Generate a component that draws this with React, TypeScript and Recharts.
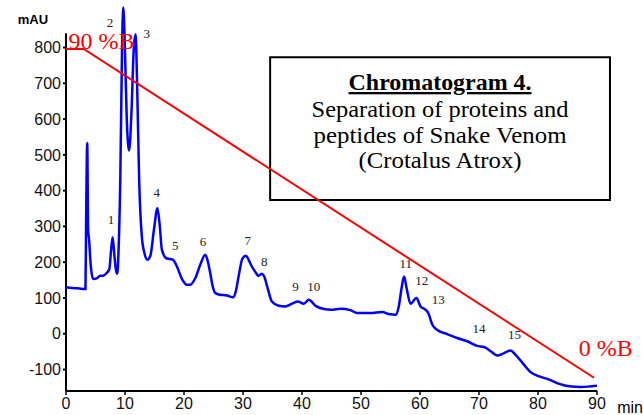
import React from 'react';
import { LineChart, Line, XAxis, YAxis, ReferenceLine, ReferenceDot, ReferenceArea } from 'recharts';

// retention time (min) and absorbance (mAU)
const times = [
  0, 1, 2, 3.3, 3.4, 3.6, 3.75, 3.9, 4.2, 4.6, 5.2, 5.8, 6.3, 6.9, 7.35, 7.6, 7.9, 8.2, 8.5, 8.7,
  8.9, 9.2, 9.5, 9.7, 9.95, 10.3, 10.7, 11.1, 11.5, 11.8, 12.05, 12.4, 12.85, 13.3, 13.8, 14.3,
  14.9, 15.5, 15.9, 16.25, 17.0, 18.1, 18.8, 19.6, 20.5, 21.05, 21.9, 22.8, 23.6, 24.0, 24.45,
  24.9, 25.3, 26.1, 27.3, 28.3, 28.8, 29.25, 29.9, 30.5, 31.0, 31.5, 32.0, 32.65, 33.2, 33.6,
  34.1, 34.9, 36.05, 37.2, 38.3, 39.3, 40.3, 41.15, 42.3, 43.7, 45.0, 46.5, 48.2, 49.35, 51.6,
  53.6, 54.7, 55.9, 56.4, 56.9, 57.3, 57.7, 58.4, 59.4, 60.1, 60.95, 61.4, 62.1, 62.9, 64.6,
  66.3, 68.0, 69.7, 70.85, 72.0, 73.1, 74.25, 75.3, 76.2, 77.4, 78.8, 80.2, 81.9, 83.6, 85.3,
  87.3, 90,
];
const absorbance = [
  130, 128, 127, 125, 300, 533, 290, 265, 190, 153, 155, 162, 162, 170, 181, 225, 270, 220, 175, 168,
  230, 430, 800, 912, 820, 600, 512, 620, 800, 837, 700, 430, 272, 225, 207, 218,
  290, 351, 300, 235, 211, 207, 188, 155, 137, 137, 155, 195, 221, 205, 169,
  130, 114, 109, 107, 102, 120, 160, 210, 218, 205, 188, 175, 162, 168, 160,
  132, 90, 78, 76, 84, 90, 84, 95, 78, 69, 67, 70, 66, 58, 58,
  61, 55, 53, 76, 130, 160, 130, 84, 100, 76, 67, 58, 25, 11, -1,
  -12, -21, -34, -37, -49, -61, -54, -47, -59, -82, -108, -119, -128, -140, -147,
  -149, -145,
];

// gradient programme, drawn in the same units as the trace
const gradientTimes = [0, 3, 89.5];
const gradientLevel = [796, 796, -123];

// peak numbers and where they sit
const peakNames = ['1', '2', '3', '4', '5', '6', '7', '8', '9', '10', '11', '12', '13', '14', '15'];
const peakTimes = [7.63, 7.46, 13.7, 15.4, 18.5, 23.2, 30.8, 33.6, 38.9, 42.0, 57.6, 60.3, 63.1, 70.0, 76.0];
const peakLevels = [321, 870, 840, 394, 248, 259, 262, 203, 133, 133, 197, 150, 97, 15, -2];

const xTicks = [0, 10, 20, 30, 40, 50, 60, 70, 80, 90];
const yTicks = [-100, 0, 100, 200, 300, 400, 500, 600, 700, 800];

const titleLines = ['Chromatogram 4.', 'Separation of proteins and', 'peptides of Snake Venom', '(Crotalus Atrox)'];
const titleLevels = [704, 630, 555, 485];
const titleWidths = [183, 257, 253, 163];

const chromatogram = times.map((t, i) => ({ t, mAU: absorbance[i] }));
const gradient = gradientTimes.map((t, i) => ({ t, mAU: gradientLevel[i] }));

const serif = '"Liberation Serif", "Times New Roman", serif';
const sans = '"Liberation Sans", Arial, sans-serif';

// centred text at the dot position
const textAt = (value: string, style: any, extra: any = {}) => (props: any) => {
  const vb = props.viewBox || {};
  const x = vb.x + (vb.width || 0) / 2;
  const y = vb.y + (vb.height || 0) / 2;
  return (
    <text x={x} y={y} dy="0.355em" textAnchor="middle" style={style} {...extra}>
      {value}
    </text>
  );
};

export default function App() {
  return (
    <div style={{ position: 'absolute', left: 0, top: 0, width: 643, height: 415, background: '#fff' }}>
      <LineChart width={643} height={415} data={chromatogram} margin={{ top: 1, right: 46, bottom: 4, left: 0 }}>
        <XAxis
          dataKey="t"
          type="number"
          domain={[0, 90]}
          ticks={xTicks}
          height={20}
          axisLine={{ stroke: '#000', strokeWidth: 2 }}
          tickLine={{ stroke: '#000', strokeWidth: 1.5 }}
          tickSize={4}
          tickMargin={3}
          tick={{ fill: '#111', fontSize: 16, fontFamily: sans }}
        />
        <YAxis
          type="number"
          domain={[-160, 930]}
          ticks={yTicks}
          width={66}
          axisLine={false}
          tickLine={{ stroke: '#000', strokeWidth: 2 }}
          tickSize={3}
          tickMargin={2}
          tick={{ fill: '#111', fontSize: 16, fontFamily: sans }}
        />
        <ReferenceLine segment={[{ x: 0, y: -160 }, { x: 0, y: 840 }]} stroke="#000" strokeWidth={2} />
        <ReferenceArea
          x1={34.6}
          x2={92.2}
          y1={374}
          y2={773}
          ifOverflow="visible"
          fill="none"
          stroke="#000"
          strokeWidth={2}
        />
        <Line dataKey="mAU" type="monotone" stroke="#0000ff" strokeWidth={2.5} dot={false} isAnimationActive={false} />
        <Line data={gradient} dataKey="mAU" type="linear" stroke="#ff0000" strokeWidth={2} dot={false} isAnimationActive={false} />
        {peakNames.map((name, i) => (
          <ReferenceDot
            key={`peak-${i}`}
            x={peakTimes[i]}
            y={peakLevels[i]}
            r={0}
            fill="none"
            stroke="none"
            ifOverflow="visible"
            label={textAt(name, { fill: '#222', fontSize: 13, fontFamily: serif })}
          />
        ))}
        <ReferenceDot
          x={6.03}
          y={821}
          r={0}
          stroke="none"
          ifOverflow="visible"
          label={textAt('90 %B', { fill: '#ff0000', fontSize: 24, fontFamily: serif })}
        />
        <ReferenceDot
          x={91.5}
          y={-39}
          r={0}
          stroke="none"
          ifOverflow="visible"
          label={textAt('0 %B', { fill: '#ff0000', fontSize: 24, fontFamily: serif })}
        />
        <ReferenceDot
          x={-5.6}
          y={879}
          r={0}
          stroke="none"
          ifOverflow="visible"
          label={textAt('mAU', { fill: '#000', fontSize: 13, fontWeight: 'bold', fontFamily: sans })}
        />
        <ReferenceDot
          x={95.6}
          y={-207}
          r={0}
          stroke="none"
          ifOverflow="visible"
          label={textAt('min', { fill: '#000', fontSize: 16, fontFamily: sans })}
        />
        {titleLines.map((line, i) => (
          <ReferenceDot
            key={`title-${i}`}
            x={63.4}
            y={titleLevels[i]}
            r={0}
            stroke="none"
            ifOverflow="visible"
            label={textAt(
              line,
              i === 0
                ? { fill: '#000', fontSize: 23, fontWeight: 'bold', fontFamily: serif, textDecoration: 'underline' }
                : { fill: '#000', fontSize: 23, fontFamily: serif },
              { textLength: titleWidths[i], lengthAdjust: 'spacingAndGlyphs' }
            )}
          />
        ))}
      </LineChart>
    </div>
  );
}
